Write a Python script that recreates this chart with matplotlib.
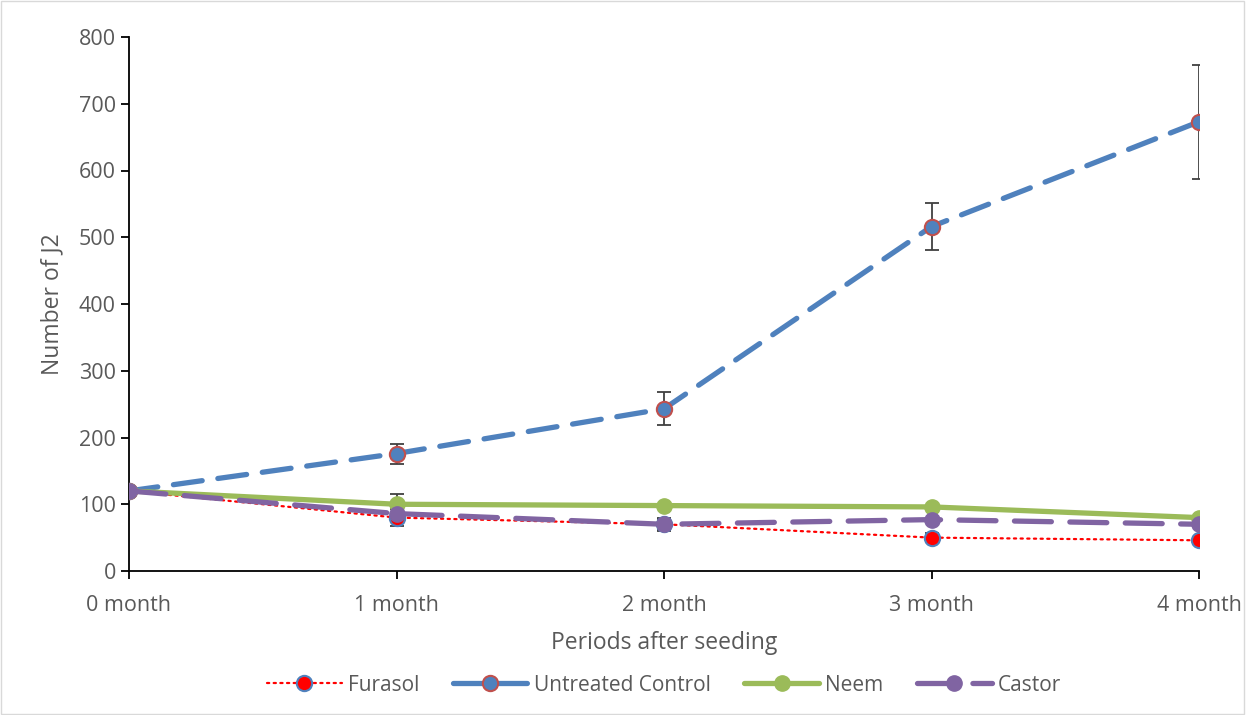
import matplotlib.pyplot as plt
from matplotlib.lines import Line2D
import numpy as np

plt.rcParams['font.family'] = ['Open Sans', 'DejaVu Sans']

periods = ['0 month', '1 month', '2 month', '3 month', '4 month']
furasol = [120, 80, 70, 50, 46]
furasol_err = [0, 13, 8, 7, 0]
control = [120, 176, 243, 516, 673]
control_err = [0, 15, 25, 35, 85]
neem = [120, 100, 98, 96, 80]
neem_err = [0, 16, 0, 0, 0]
castor = [120, 86, 70, 77, 70]
castor_err = [0, 0, 10, 0, 0]

txt = '#595959'
x = np.arange(len(periods))

fig = plt.figure(figsize=(12.46, 7.15), dpi=100)
ax = fig.add_axes([129 / 1246, 1 - 571 / 715, 1070 / 1246, 534 / 715])

ekw = dict(ecolor='#404040', elinewidth=1.3, capsize=5, capthick=1.3)
styles = [
    ('Furasol', furasol, furasol_err, dict(color='red', ls=(0, (1, 2)), lw=1.6, mfc='red', mec='#4F81BD', mew=1.5)),
    ('Untreated Control', control, control_err, dict(color='#4F81BD', ls=(0, (5.5, 3)), lw=3.8, mfc='#4F81BD', mec='#C0504D', mew=1.5)),
    ('Neem', neem, neem_err, dict(color='#9BBB59', ls='-', lw=3.8, mfc='#9BBB59', mec='#9BBB59', mew=1)),
    ('Castor', castor, castor_err, dict(color='#8064A2', ls=(0, (7, 3.5)), lw=3.8, mfc='#8064A2', mec='#8064A2', mew=1)),
]
handles = []
for i, (name, vals, err, st) in enumerate(styles):
    ax.errorbar(x, vals, yerr=err, fmt='none', zorder=2, **ekw)
    ax.plot(x, vals, marker='o', ms=11, dash_capstyle='round', solid_capstyle='round',
            zorder=3 + (i == 3), **st)
    handles.append(Line2D([], [], marker='o', ms=11, dash_capstyle='round', solid_capstyle='round', **st))

ax.set_xlim(0, 4)
ax.set_ylim(0, 800)
ax.set_yticks(range(0, 801, 100))
ax.set_xticks(x)
ax.set_xticklabels(periods)
for s in ['top', 'right']:
    ax.spines[s].set_visible(False)
for s in ['left', 'bottom']:
    ax.spines[s].set_linewidth(1.3)
ax.tick_params(axis='both', colors='black', labelcolor=txt, labelsize=15.5, length=6, width=1.3)
ax.tick_params(axis='x', pad=11)
ax.set_xlabel('Periods after seeding', fontsize=16.5, color=txt, labelpad=11)
ax.set_ylabel('Number of J2', fontsize=16.5, color=txt, labelpad=10)

leg = ax.legend(handles, [s[0] for s in styles], loc='center', bbox_to_anchor=(0.5, -0.214), ncol=4,
                frameon=False, fontsize=15, handlelength=3.6, columnspacing=1.6, handletextpad=0.3)
for t in leg.get_texts():
    t.set_color(txt)

fig.patches.append(plt.Rectangle((0.001, 0.001), 0.997, 0.997, transform=fig.transFigure,
                                 fill=False, edgecolor='#D9D9D9', lw=1))
fig.savefig('out.png')
